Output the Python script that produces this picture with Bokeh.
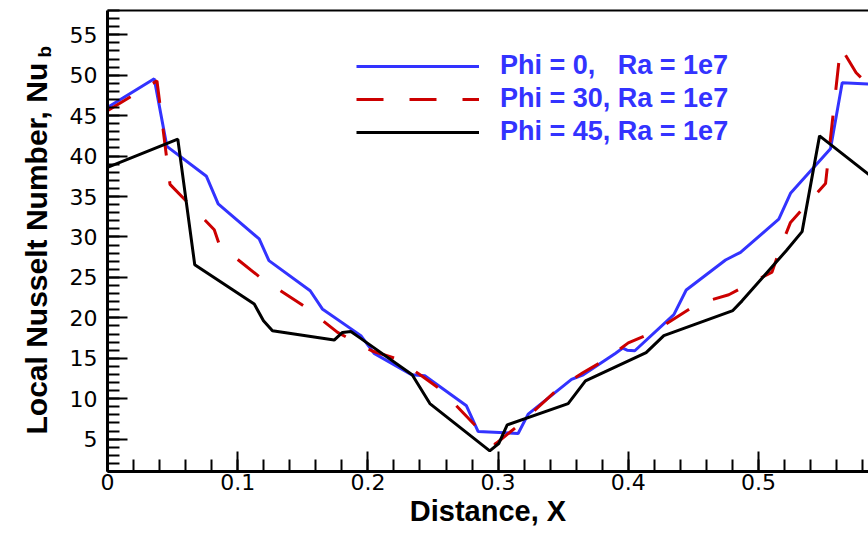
import math
from bokeh.plotting import figure
from bokeh.layouts import row
from bokeh.models import (Range1d, LinearAxis, SingleIntervalTicker, FixedTicker,
                          Legend, LegendItem)
from bokeh.core.properties import value
from bokeh.embed import file_html
from bokeh.resources import INLINE

# ---- data ----
phi0_x = [0.0, 0.0359, 0.0456, 0.076, 0.085, 0.1165, 0.124, 0.1557, 0.165, 0.1946,
          0.2048, 0.2335, 0.2437, 0.2757, 0.2847, 0.3154, 0.3231, 0.3564, 0.3654, 0.39,
          0.3958, 0.3991, 0.405, 0.435, 0.4445, 0.4747, 0.4862, 0.5156, 0.5246, 0.5553,
          0.5643, 0.585]
phi0_y = [46.0, 49.55, 41.2, 37.5, 34.1, 29.75, 27.07, 23.35, 21.1, 17.8,
          15.6, 12.96, 12.83, 9.12, 5.94, 5.7, 8.1, 12.4, 12.96, 15.6,
          16.26, 16.0, 15.93, 20.4, 23.44, 27.15, 28.1, 32.2, 35.4, 40.9,
          49.06, 48.9]

phi30_x = [0.0, 0.038, 0.048, 0.082, 0.086, 0.1173, 0.1515, 0.1767, 0.1849, 0.2033,
           0.2227, 0.2412, 0.2565, 0.2852, 0.298, 0.3167, 0.3474, 0.3654, 0.3833, 0.40,
           0.4188, 0.4529, 0.4772, 0.4913, 0.5104, 0.516, 0.5246, 0.5515, 0.563, 0.575,
           0.585]
phi30_y = [45.6, 49.3, 36.5, 30.9, 29.0, 25.0, 21.4, 18.2, 17.5, 15.9,
           14.9, 12.83, 11.06, 6.24, 4.4, 6.86, 11.4, 13.24, 14.9, 16.9,
           18.2, 21.7, 22.86, 24.06, 25.65, 28.3, 31.8, 36.6, 53.5, 50.3,
           48.7]

phi45_x = [0.0, 0.054, 0.067, 0.1127, 0.1198, 0.1267, 0.1741, 0.1805, 0.1869, 0.195,
           0.234, 0.2476, 0.2936, 0.3005, 0.307, 0.3538, 0.3671, 0.4137, 0.4273, 0.4803,
           0.4874, 0.5213, 0.5335, 0.5469, 0.585]
phi45_y = [38.6, 42.1, 26.57, 21.7, 19.64, 18.4, 17.25, 18.2, 18.3, 17.4,
           12.96, 9.4, 3.55, 4.46, 6.77, 9.4, 12.2, 15.7, 17.8, 20.9,
           22.1, 28.3, 30.66, 42.5, 37.7]

series_labels = ["Phi = 0,\u00a0\u00a0\u00a0Ra = 1e7",
                 "Phi = 30, Ra = 1e7",
                 "Phi = 45, Ra = 1e7"]
x_title = "Distance, X"
y_title = "Local Nusselt Number, Nu"
y_title_sub = "b"

FONT = "Liberation Sans"
TICK_FONT = "DejaVu Sans"
H = 535
TITLE_W = 55

# ---------- main plot ----------
p = figure(width=868 - TITLE_W, height=H, output_backend="svg", toolbar_location=None,
           x_range=Range1d(0, 0.5845), y_range=Range1d(1, 58),
           min_border_left=107 - TITLE_W, min_border_right=0, min_border_top=10,
           min_border_bottom=64)
p.outline_line_color = None
p.grid.visible = False
p.background_fill_color = "white"
p.border_fill_color = "white"

p.xaxis.ticker = SingleIntervalTicker(interval=0.1, num_minor_ticks=5)
p.yaxis.ticker = SingleIntervalTicker(interval=5, num_minor_ticks=5)
p.xaxis.major_label_overrides = {0: "0"}

for ax in (p.xaxis[0], p.yaxis[0]):
    ax.axis_line_width = 3
    ax.axis_line_color = "black"
    ax.major_tick_in = 20
    ax.major_tick_out = 0
    ax.minor_tick_in = 12
    ax.minor_tick_out = 0
    ax.major_tick_line_width = 2
    ax.minor_tick_line_width = 2
    ax.major_tick_line_color = "black"
    ax.minor_tick_line_color = "black"
    ax.major_label_text_font = TICK_FONT
    ax.major_label_text_font_size = "22px"
    ax.major_label_text_color = "black"

p.xaxis.major_label_standoff = 2
p.xaxis.axis_label = x_title
p.xaxis.axis_label_text_font = FONT
p.xaxis.axis_label_text_font_style = "bold"
p.xaxis.axis_label_text_font_size = "29px"
p.xaxis.axis_label_text_color = "black"
p.xaxis.axis_label_standoff = 2
p.yaxis.major_label_standoff = 10

top = LinearAxis(ticker=FixedTicker(ticks=[]), axis_line_width=2,
                 major_label_text_font_size="0px", major_tick_in=0, major_tick_out=0,
                 minor_tick_in=0, minor_tick_out=0)
p.add_layout(top, "above")

r0 = p.line(phi0_x, phi0_y, line_color="#3333ff", line_width=3)
r1 = p.line(phi30_x, phi30_y, line_color="#cc0000", line_width=3, line_dash="27 26")
r2 = p.line(phi45_x, phi45_y, line_color="black", line_width=3)

legend = Legend(items=[LegendItem(label=series_labels[0], renderers=[r0]),
                       LegendItem(label=series_labels[1], renderers=[r1]),
                       LegendItem(label=series_labels[2], renderers=[r2])],
                location=(249, 324), glyph_width=123, glyph_height=30,
                label_standoff=21, spacing=2, padding=0, margin=0,
                background_fill_alpha=0, border_line_alpha=0,
                label_text_font=FONT, label_text_font_style="bold",
                label_text_font_size="27px", label_text_color="#3333ff")
p.add_layout(legend)

# ---------- y-axis title strip (text with subscript) ----------
t = figure(width=TITLE_W, height=H, output_backend="svg", toolbar_location=None,
           x_range=Range1d(0, TITLE_W), y_range=Range1d(0, H),
           x_axis_location=None, y_axis_location=None,
           min_border_left=0, min_border_right=0, min_border_top=0, min_border_bottom=0)
t.outline_line_color = None
t.grid.visible = False
t.background_fill_color = "white"
t.border_fill_color = "white"
t.text(x=[36], y=[101], text=[y_title], angle=math.pi / 2,
       text_font=value(FONT), text_font_style="bold", text_font_size="30px",
       text_align="left", text_baseline="alphabetic", text_color="black")
t.text(x=[44], y=[478], text=[y_title_sub], angle=math.pi / 2,
       text_font=value(FONT), text_font_style="bold", text_font_size="19px",
       text_align="left", text_baseline="alphabetic", text_color="black")

for fig in (t, p):
    try:
        fig.frame_align = False
    except Exception:
        pass

layout = row(t, p, spacing=0)
open("out.html", "w").write(file_html(layout, INLINE))
